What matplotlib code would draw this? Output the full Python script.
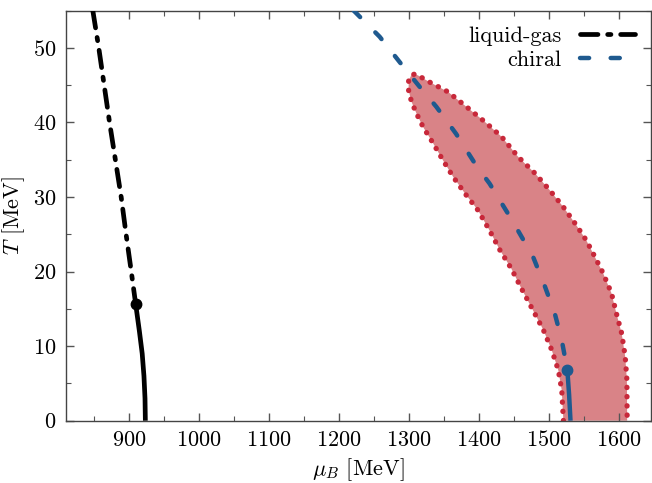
import matplotlib
matplotlib.use("Agg")
import matplotlib.pyplot as plt
from matplotlib.ticker import MultipleLocator

plt.rcParams["font.family"] = "serif"
plt.rcParams["font.serif"] = ["cmr10"]
plt.rcParams["mathtext.fontset"] = "cm"
plt.rcParams["axes.formatter.use_mathtext"] = True
plt.rcParams["font.size"] = 16

# liquid-gas transition: first-order branch (solid) and crossover (dash-dot)
lg_mu_first = [909.6, 915, 919, 921.5, 923, 923.5]
lg_T_first = [15.7, 12, 9, 6, 3, 0]
lg_mu_cross = [848.5, 857, 864.7, 872.4, 880.7, 889, 896, 903.4, 909.6]
lg_T_cross = [55, 50, 45, 40, 35, 30, 25, 20, 15.7]
lg_cep = (909.6, 15.7)

# chiral transition
ch_mu_cross = [1221, 1258, 1290, 1315, 1339, 1367, 1396, 1415, 1445, 1458, 1477, 1494, 1508, 1518, 1526]
ch_T_cross = [55, 51.5, 47.7, 44.8, 42.1, 38.5, 34.2, 31.8, 27.2, 25.1, 22, 18, 14.4, 10.8, 6.8]
ch_mu_first = [1526, 1528.5, 1530.5]
ch_T_first = [6.8, 3.5, 0]
ch_cep = (1526, 6.8)

# band boundary: left edge bottom->top, then right edge top->bottom
band_mu = [1520.4, 1518, 1513, 1503.6, 1491.6, 1477, 1460.6, 1446, 1429.6, 1415,
           1398.6, 1379.6, 1363, 1348.6, 1334.4, 1320, 1310.6, 1303.4, 1299.4, 1299.4,
           1303, 1308, 1313, 1329.6, 1355.7, 1382, 1408, 1432, 1455.7, 1479.6,
           1501, 1520, 1539, 1553, 1563, 1577, 1589, 1596, 1603.6, 1608.6, 1611, 1611.4]
band_T = [0, 4.1, 6.8, 9.5, 12.2, 14.8, 17.7, 20.4, 22.9, 25.5,
          28.2, 30.5, 32.7, 34.9, 37.2, 39.4, 41.2, 42.8, 44.3, 45.6,
          46.3, 46.5, 46.3, 45.4, 44.1, 42.1, 40.1, 38.1, 35.4, 33.2,
          30.9, 28.7, 26.2, 24.2, 22.4, 19.8, 17.1, 14.4, 11.7, 8.6, 5.5, 0]

blue = "#1f5a8f"

fig = plt.figure(figsize=(6.52, 4.83), dpi=100)
ax = fig.add_axes([0.101, 0.129, 0.897, 0.849])

ax.fill(band_mu, band_T, color="#d98387", lw=0, zorder=1)
ax.plot(band_mu, band_T, color="#c8283a", lw=3.8, linestyle=(0, (0.05, 1.7)),
        dash_capstyle="round", zorder=2)

ax.plot(lg_mu_cross, lg_T_cross, color="black", lw=3.4,
        linestyle=(0, (3.7, 2.05, 0.7, 2.05)), dash_capstyle="round",
        zorder=3, label="liquid-gas")
ax.plot(lg_mu_first, lg_T_first, color="black", lw=3.4, solid_capstyle="butt", zorder=3)
ax.plot(*lg_cep, "o", color="black", ms=7.5, zorder=4)

ax.plot(ch_mu_cross, ch_T_cross, color=blue, lw=3.2,
        linestyle=(0, (2.05, 4.85)), dash_capstyle="round", zorder=3, label="chiral")
ax.plot(ch_mu_first, ch_T_first, color=blue, lw=3.2, solid_capstyle="butt", zorder=3)
ax.plot(*ch_cep, "o", color=blue, ms=7.5, zorder=4)

ax.set_xlim(810, 1645)
ax.set_ylim(0, 55)
ax.xaxis.set_major_locator(MultipleLocator(100))
ax.xaxis.set_minor_locator(MultipleLocator(50))
ax.yaxis.set_major_locator(MultipleLocator(10))
ax.yaxis.set_minor_locator(MultipleLocator(5))
ax.tick_params(which="both", direction="in", top=True, right=True, color="#555555")
ax.tick_params(which="major", length=6, width=1, pad=7)
ax.tick_params(which="minor", length=3.5, width=0.8)
for s in ax.spines.values():
    s.set_color("#444444")
    s.set_linewidth(1)

ax.set_xlabel(r"$\mu_B$ [MeV]")
ax.set_ylabel(r"$T$ [MeV]")
ax.legend(loc="upper right", frameon=False, markerfirst=False, handlelength=2.5,
          borderaxespad=0.3, labelspacing=0.2)

fig.savefig("out.png", dpi=100)
